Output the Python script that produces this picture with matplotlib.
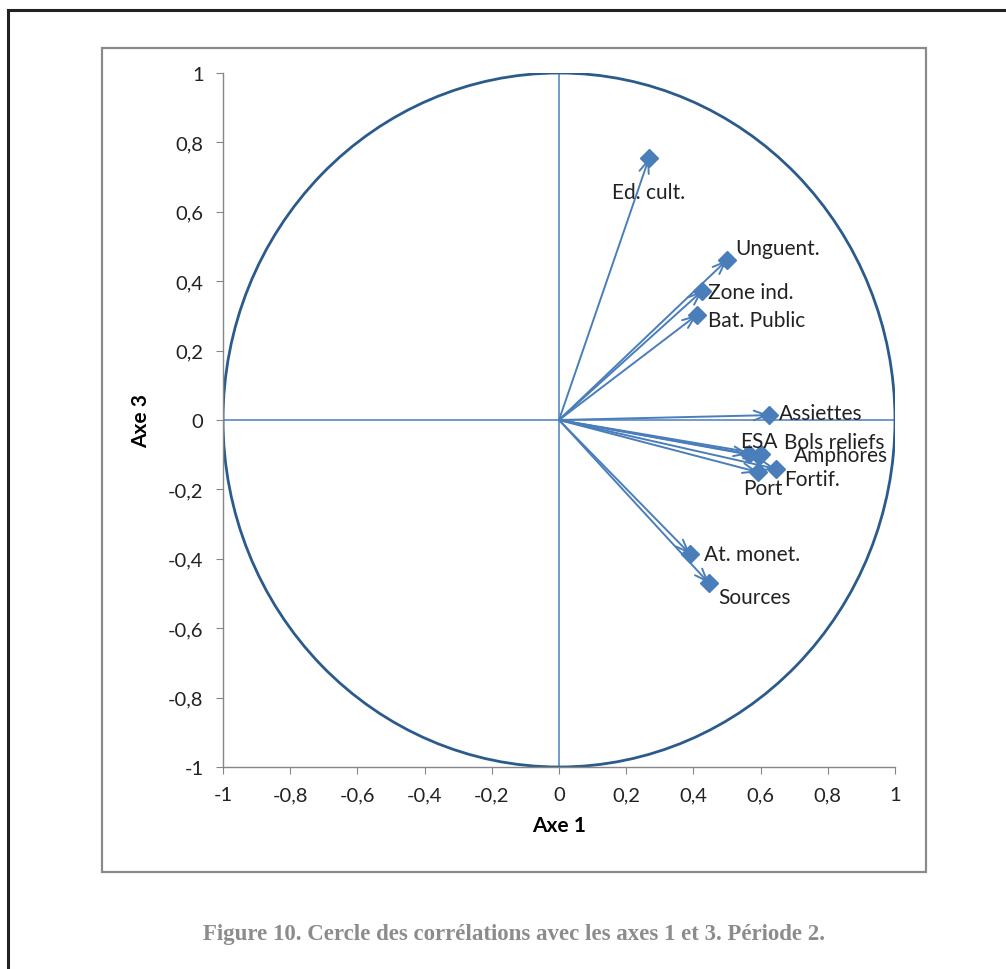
import numpy as np
import matplotlib.pyplot as plt
from matplotlib.patches import Circle, Rectangle
from matplotlib.lines import Line2D

# variables et coordonnees (axe 1, axe 3)
labels = ['Ed. cult.', 'Unguent.', 'Zone ind.', 'Bat. Public', 'Assiettes', 'ESA',
          'Bols reliefs', 'Amphores', 'Fortif.', 'Port', 'At. monet.', 'Sources']
axe1 = [0.268, 0.500, 0.426, 0.411, 0.625, 0.565, 0.601, 0.595, 0.646, 0.592, 0.390, 0.446]
axe3 = [0.755, 0.461, 0.372, 0.303, 0.014, -0.098, -0.098, -0.105, -0.141, -0.150, -0.386, -0.470]
ticks = [-1, -0.8, -0.6, -0.4, -0.2, 0, 0.2, 0.4, 0.6, 0.8, 1]
tick_labels = ['-1', '-0,8', '-0,6', '-0,4', '-0,2', '0', '0,2', '0,4', '0,6', '0,8', '1']

# decalage des etiquettes en pixels (dx, dy) par rapport au point
label_off = {
    'Ed. cult.': (-37, -34),
    'Unguent.': (8, 12),
    'Zone ind.': (6, -1),
    'Bat. Public': (11, -5),
    'Assiettes': (10, 2),
    'ESA': (-9, 13),
    'Bols reliefs': (23, 12),
    'Amphores': (35, 1),
    'Fortif.': (8, -10),
    'Port': (-15, -16),
    'At. monet.': (14, 0),
    'Sources': (9, -14),
}

plt.rcParams['font.family'] = ['Lato', 'DejaVu Sans']
blue = '#4a7ebb'
dark = '#2b5b8c'
grey = '#868686'

fig = plt.figure(figsize=(10.06, 9.70), dpi=100)
W, H = 1006, 970

# cadre exterieur noir et cadre du graphique gris
fig.add_artist(Line2D([8 / W, 8 / W], [0, 1 - 11 / H], color='#222222', lw=2.2))
fig.add_artist(Line2D([8 / W, 1], [1 - 11 / H, 1 - 11 / H], color='#222222', lw=2.2))
fig.add_artist(Rectangle((102 / W, 1 - 873 / H), 824 / W, 824 / H, fill=False,
                         edgecolor='#8a8a8a', lw=1.6))

ax = fig.add_axes([223 / W, 1 - 768 / H, 672 / W, 694 / H])
ax.set_xlim(-1, 1)
ax.set_ylim(-1, 1)

ax.axhline(0, color=blue, lw=1.1, zorder=1)
ax.axvline(0, color=blue, lw=1.1, zorder=1)
ax.add_patch(Circle((0, 0), 1, fill=False, edgecolor=dark, lw=2.0, zorder=2))

for name, x, y in zip(labels, axe1, axe3):
    ax.annotate('', xy=(x, y), xytext=(0, 0),
                arrowprops=dict(arrowstyle='->,head_length=0.9,head_width=0.35',
                                color=blue, lw=1.4, shrinkA=0, shrinkB=0), zorder=3)
ax.plot(axe1, axe3, linestyle='none', marker='D', markersize=9,
        color=blue, markeredgecolor=blue, zorder=4)

for name, x, y in zip(labels, axe1, axe3):
    dx, dy = label_off[name]
    ax.annotate(name, xy=(x, y), xytext=(dx * 0.72, dy * 0.72), textcoords='offset points',
                ha='left', va='center', fontsize=15, color='#222222', zorder=5)

ax.set_xticks(ticks)
ax.set_xticklabels(tick_labels)
ax.set_yticks(ticks)
ax.set_yticklabels(tick_labels)
ax.tick_params(axis='both', direction='out', length=5, color=grey, labelsize=14.5,
               labelcolor='#222222', pad=9)
for side in ['top', 'right']:
    ax.spines[side].set_visible(False)
for side in ['left', 'bottom']:
    ax.spines[side].set_color(grey)
    ax.spines[side].set_linewidth(1)

ax.set_xlabel('Axe 1', fontsize=15, fontweight='bold', labelpad=8)
ax.set_ylabel('Axe 3', fontsize=15, fontweight='bold', labelpad=12)

fig.text(514 / W, 1 - 935 / H,
         'Figure 10. Cercle des corrélations avec les axes 1 et 3. Période 2.',
         ha='center', va='center', fontsize=16.5, fontweight='bold', color='#8c8c8c',
         family=['Liberation Serif', 'DejaVu Serif'])

fig.savefig('out.png', dpi=100)
